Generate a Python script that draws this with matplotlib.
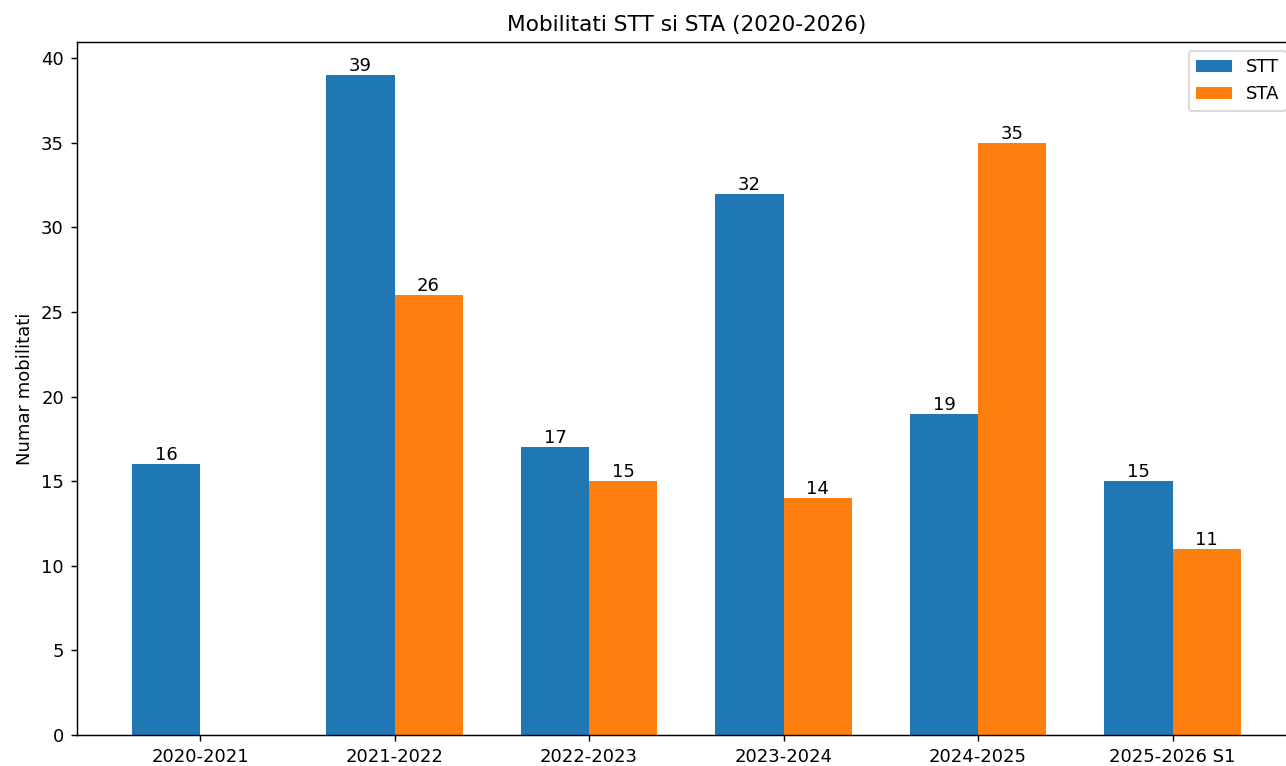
import numpy as np
import matplotlib
matplotlib.use("Agg")
from matplotlib import pyplot as plt

# academic years and mobility counts
years = ["2020-2021", "2021-2022", "2022-2023", "2023-2024", "2024-2025", "2025-2026 S1"]
stt = [16, 39, 17, 32, 19, 15]
sta = [np.nan, 26, 15, 14, 35, 11]

x = np.arange(len(years))
width = 0.35

fig = plt.figure(figsize=(1286 / 130, 766 / 130), dpi=130)
# the original screenshot cuts the axes off on the right side
ax = fig.add_axes([0.0595, 0.0405, 1.0078 - 0.0595, 0.945 - 0.0405])

b1 = ax.bar(x - width / 2, stt, width, label="STT")
b2 = ax.bar(x + width / 2, sta, width, label="STA")

ax.bar_label(b1, labels=[f"{v:g}" for v in stt])
ax.bar_label(b2, labels=["" if np.isnan(v) else f"{v:g}" for v in sta])

ax.set_xticks(x)
ax.set_xticklabels(years)
ax.set_ylabel("Numar mobilitati")
ax.set_title("Mobilitati STT si STA (2020-2026)")
ax.legend(loc="upper right")

fig.savefig("out.png", dpi=130)
